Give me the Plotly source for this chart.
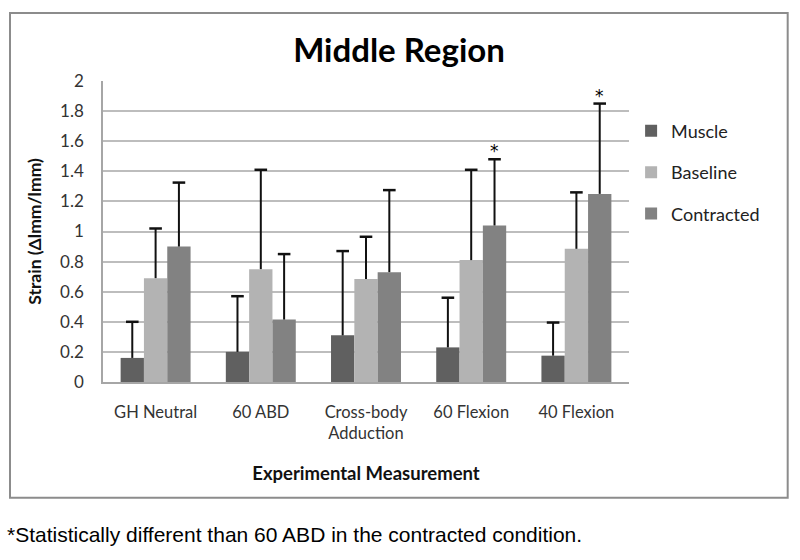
import plotly.graph_objects as go

categories = ["GH Neutral", "60 ABD", "Cross-body<br>Adduction", "60 Flexion", "40 Flexion"]
series_names = ["Muscle", "Baseline", "Contracted"]
muscle = [0.16, 0.20, 0.31, 0.23, 0.175]
muscle_err = [0.24, 0.37, 0.56, 0.33, 0.22]
baseline = [0.69, 0.75, 0.685, 0.81, 0.885]
baseline_err = [0.33, 0.66, 0.28, 0.60, 0.375]
contracted = [0.90, 0.415, 0.73, 1.04, 1.25]
contracted_err = [0.425, 0.435, 0.545, 0.44, 0.60]
significant = [False, False, False, True, True]
y_ticks = [0, 0.2, 0.4, 0.6, 0.8, 1, 1.2, 1.4, 1.6, 1.8, 2]
y_tick_labels = ["0", "0.2", "0.4", "0.6", "0.8", "1", "1.2", "1.4", "1.6", "1.8", "2"]

colors = ["#606060", "#b3b3b3", "#828282"]
values = [muscle, baseline, contracted]
errs = [muscle_err, baseline_err, contracted_err]

fig = go.Figure()
for i, name in enumerate(series_names):
    fig.add_trace(go.Bar(
        x=categories, y=values[i], name=name,
        offsetgroup=str(i), alignmentgroup="a",
        marker=dict(color=colors[i], line=dict(width=0)),
        error_y=dict(type="data", array=errs[i], arrayminus=[0] * len(categories),
                     symmetric=False, color="#111111", thickness=2, width=0),
        legendgroup=name,
    ))

# error bar caps (top end only)
for i, name in enumerate(series_names):
    tops = [v + e for v, e in zip(values[i], errs[i])]
    fig.add_trace(go.Scatter(
        x=categories, y=tops, offsetgroup=str(i), alignmentgroup="a",
        mode="markers",
        marker=dict(symbol="line-ew", size=9, line=dict(width=2.5, color="#111111")),
        showlegend=False, hoverinfo="skip",
    ))

font_main = "Lato, 'Open Sans', sans-serif"

for c, v, e, s in zip(categories, contracted, contracted_err, significant):
    if s:
        fig.add_annotation(x=c, y=v + e, xref="x", yref="y", text="*", showarrow=False,
                           xshift=23, yshift=-4, yanchor="bottom",
                           font=dict(family="'DejaVu Sans', sans-serif", size=17, color="#000000"))

fig.add_annotation(text="*Statistically different than 60 ABD in the contracted condition.",
                   xref="paper", yref="paper", x=-0.187, y=-0.505, xanchor="left", yanchor="middle",
                   showarrow=False,
                   font=dict(family="'Liberation Sans', Arial, sans-serif", size=21, color="#000000"))

fig.add_shape(type="rect", xref="paper", yref="paper", x0=-0.1768, x1=1.3017, y0=-0.3844, y1=1.226,
              line=dict(color="#8c8c8c", width=2), fillcolor="rgba(0,0,0,0)", layer="below")

fig.update_layout(
    width=800, height=560,
    margin=dict(l=103, r=171, t=81, b=178),
    paper_bgcolor="white", plot_bgcolor="white",
    title=dict(text="<b>Middle Region</b>", x=399 / 800, xanchor="center", y=1 - 50 / 560, yanchor="middle",
               font=dict(family=font_main, size=33, color="#000000")),
    barmode="group", bargap=0.335, bargroupgap=0,
    scattermode="group", scattergap=0.335,
    showlegend=True,
    legend=dict(x=1.004, y=0.895, xanchor="left", yanchor="top", tracegroupgap=15,
                traceorder="grouped",
                font=dict(family=font_main, size=18, color="#222222"), bgcolor="rgba(0,0,0,0)"),
    font=dict(family=font_main, color="#333333"),
)
fig.update_xaxes(
    showline=True, linecolor="#a6a6a6", linewidth=1.5, showgrid=False,
    tickfont=dict(family=font_main, size=16.5, color="#333333"), ticks="", ticklabelstandoff=14,
    title=dict(text="<b>Experimental Measurement</b>", standoff=25,
               font=dict(family=font_main, size=18.5, color="#111111")),
)
fig.update_yaxes(
    range=[0, 2], tickvals=y_ticks, ticktext=y_tick_labels,
    showline=True, linecolor="#a6a6a6", linewidth=1.5,
    showgrid=True, gridcolor="#bdbdbd", gridwidth=1.5,
    tickfont=dict(family=font_main, size=17, color="#333333"), ticks="", ticklabelstandoff=14,
    title=dict(text="<b>Strain (Δlmm/lmm)</b>", standoff=14,
               font=dict(family=font_main, size=17.5, color="#111111")),
    zeroline=False,
)

fig.write_html("out.html", config={"displayModeBar": False},
               post_script="document.body.style.margin='0';")
